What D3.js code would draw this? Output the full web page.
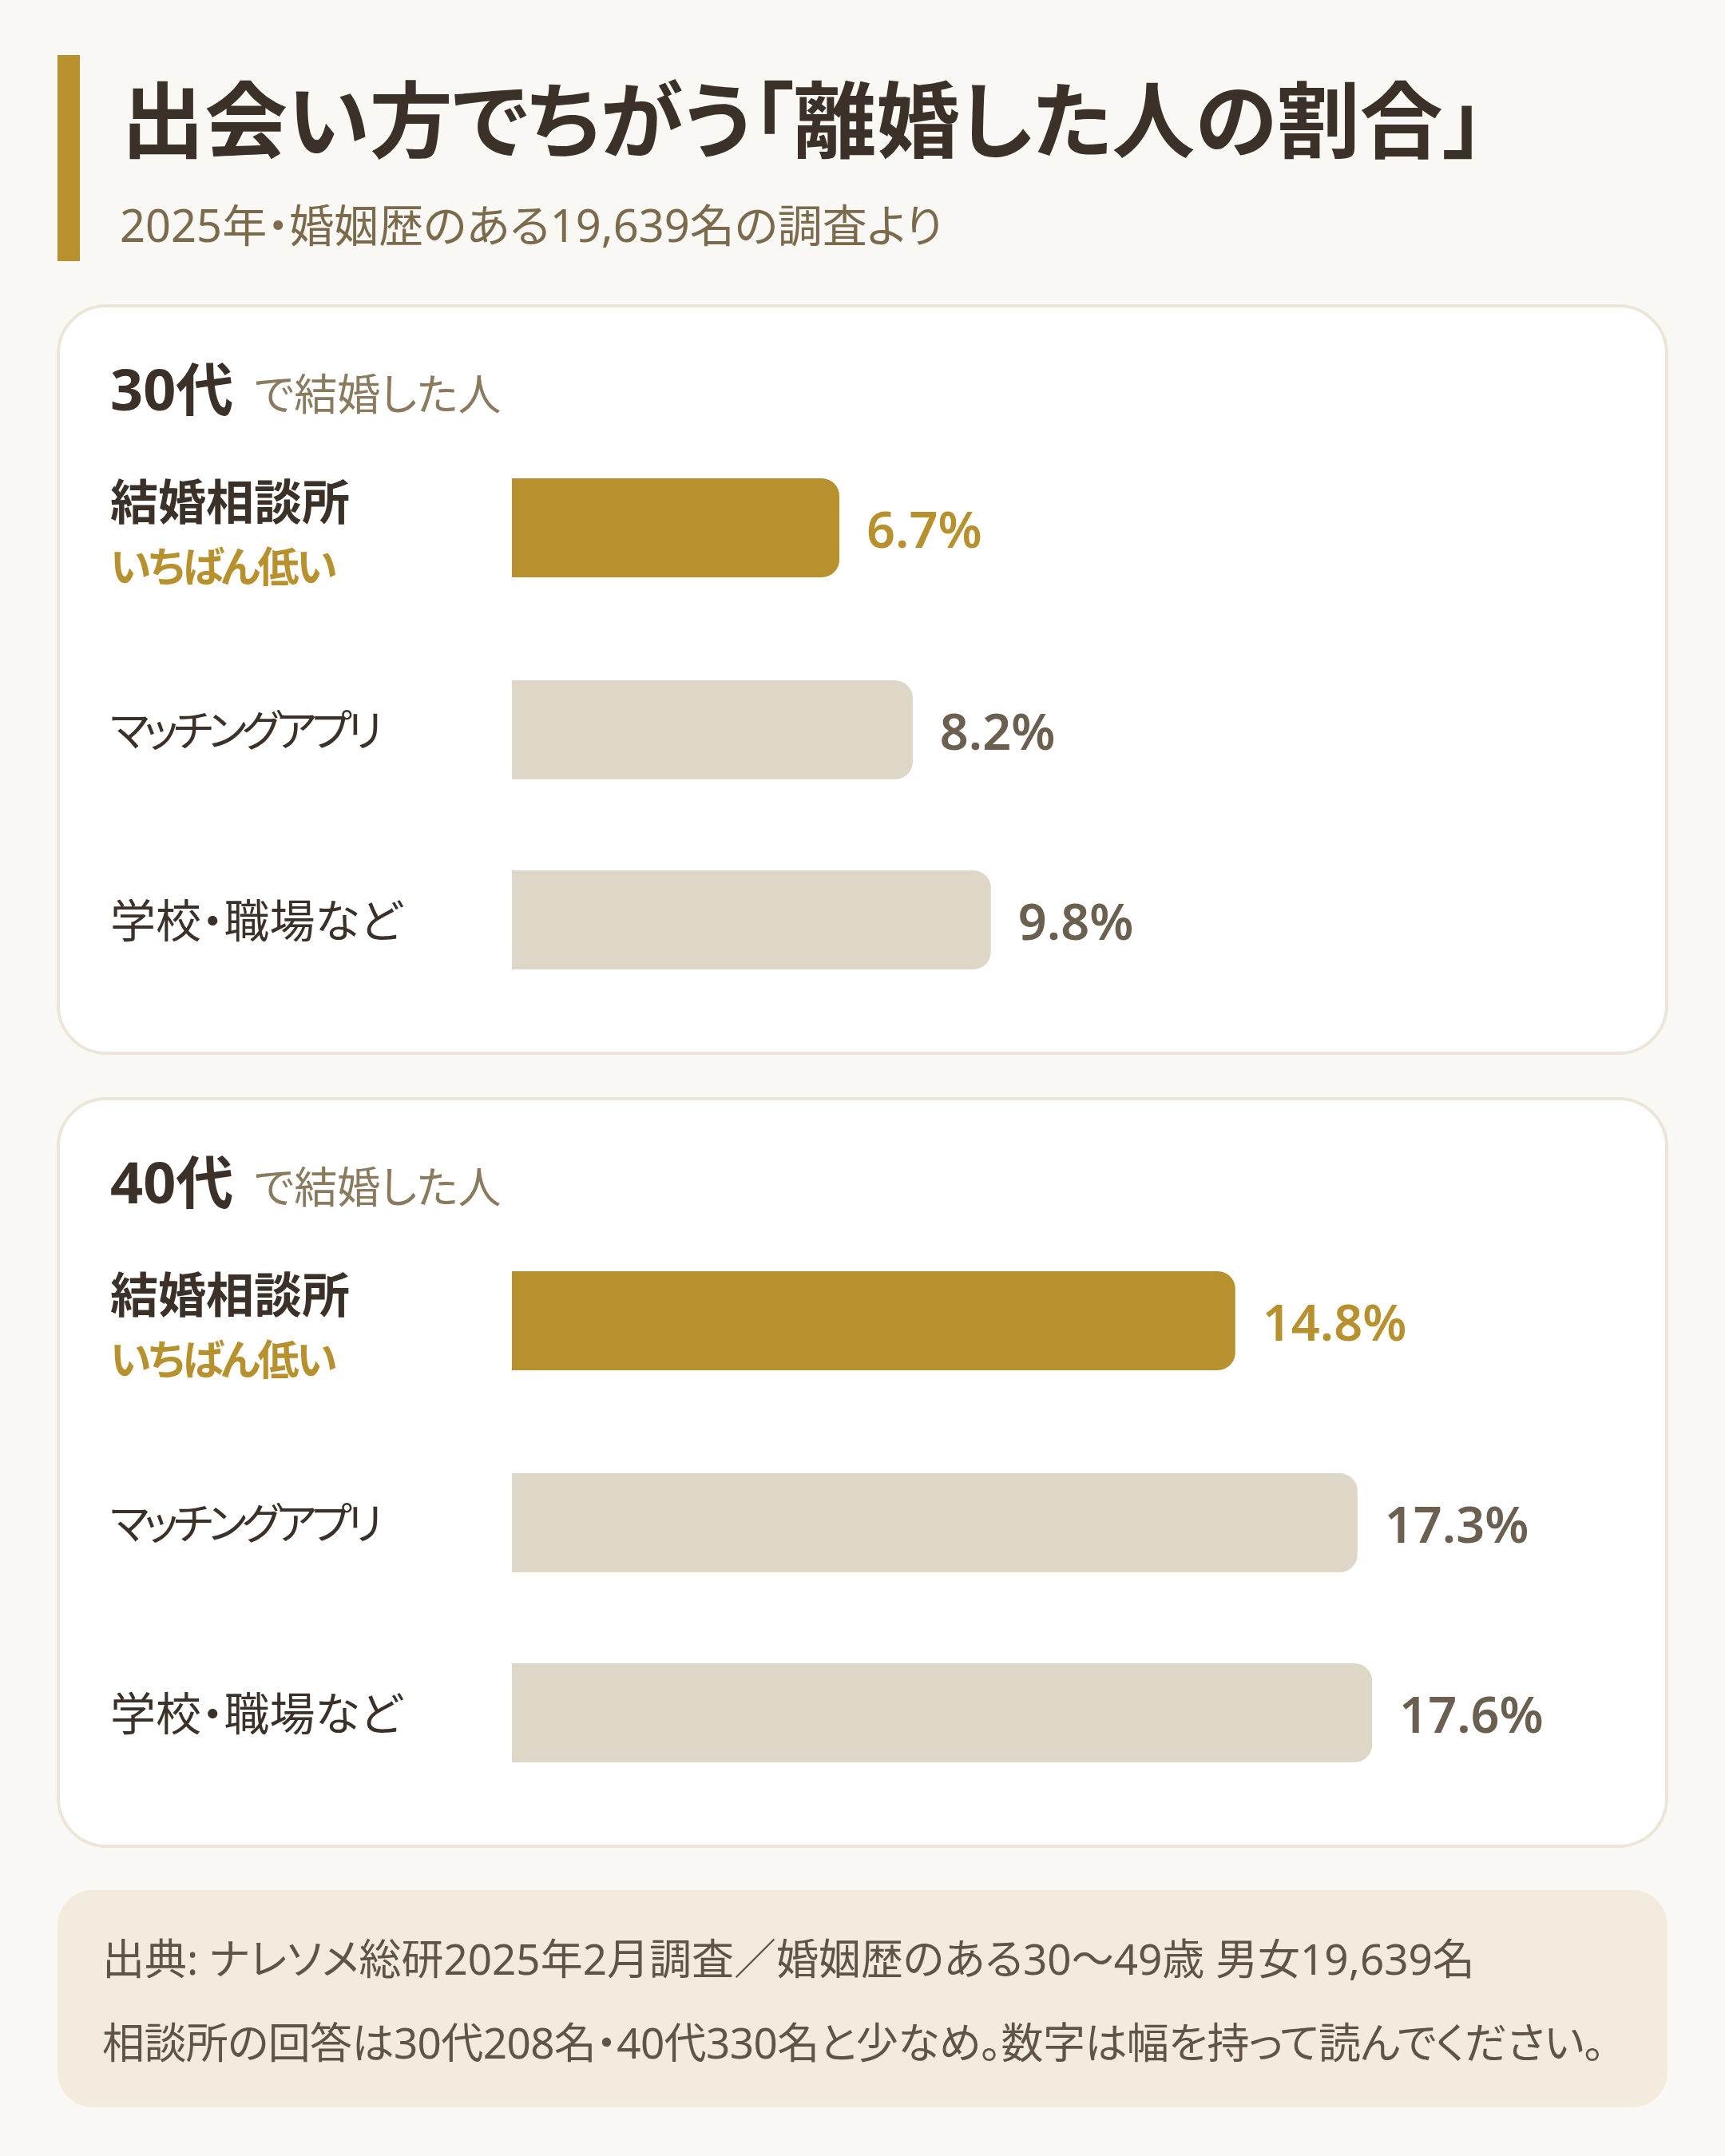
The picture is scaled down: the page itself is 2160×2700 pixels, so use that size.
<!DOCTYPE html>
<html lang="ja">
<head>
<meta charset="utf-8">
<script src="https://cdn.jsdelivr.net/npm/d3@7"></script>
<style>
  html, body { margin: 0; padding: 0; background: #f9f8f4; }
  svg text {
    font-family: "Noto Sans", "Noto Sans CJK JP", sans-serif;
    font-feature-settings: "palt" 1, "kern" 1;
    font-kerning: normal;
  }
</style>
</head>
<body>
<script>
var W = 2160, H = 2700;

// data
var groups = ["30代", "40代"];
var categories = ["結婚相談所", "マッチングアプリ", "学校・職場など"];
var values30 = [6.7, 8.2, 9.8];
var values40 = [14.8, 17.3, 17.6];
var highlight = "結婚相談所";
var highlightNote = "いちばん低い";
var titleText = "出会い方でちがう「離婚した人の割合」";
var subtitleText = "2025年・婚姻歴のある19,639名の調査より";
var groupSuffix = "で結婚した人";
var notes = [
  "出典: ナレソメ総研2025年2月調査／婚姻歴のある30〜49歳 男女19,639名",
  "相談所の回答は30代208名・40代330名と少なめ。数字は幅を持って読んでください。"
];

var gold = "#b8912f";
var dark = "#3b3128";
var barGray = "#ded6c6";
var valueGray = "#6b5f4f";

// kana in the original sit tighter than the local font sets them
var labelSize = { "マッチングアプリ": 54, "学校・職場など": 57 };
var labelSpacing = { "マッチングアプリ": -5.8, "学校・職場など": 0 };
var noteSpacing = [0, -0.6];

var svg = d3.select("body").append("svg").attr("width", W).attr("height", H);
svg.append("rect").attr("width", W).attr("height", H).attr("fill", "#f9f8f4");

// header
svg.append("rect").attr("x", 72).attr("y", 69).attr("width", 28).attr("height", 258).attr("fill", gold);
svg.append("text").attr("x", 152).attr("y", 190)
  .attr("font-size", 104).attr("font-weight", 700).attr("fill", dark)
  .text(titleText);
svg.append("text").attr("x", 150).attr("y", 303)
  .attr("font-size", 56).attr("fill", "#7b6a4b")
  .text(subtitleText);

// scales
var x = d3.scaleLinear().domain([0, 20]).range([641, 1865]);
var cardTop = d3.scaleOrdinal().domain(groups).range([382, 1375]);
var rowTop = d3.scaleOrdinal().domain(categories).range([217, 470, 708]);
var barH = 124, r = 22;

function barPath(x0, x1, y0, h) {
  var p = d3.path();
  p.moveTo(x0, y0);
  p.lineTo(x1 - r, y0);
  p.arcTo(x1, y0, x1, y0 + r, r);
  p.lineTo(x1, y0 + h - r);
  p.arcTo(x1, y0 + h, x1 - r, y0 + h, r);
  p.lineTo(x0, y0 + h);
  p.closePath();
  return p.toString();
}

var groupValues = [values30, values40];

groups.forEach(function(g, gi) {
  var top = cardTop(g);
  var card = svg.append("g").attr("transform", "translate(0," + top + ")");
  card.append("rect").attr("x", 73).attr("y", 1).attr("width", 2014).attr("height", 936)
    .attr("rx", 60).attr("fill", "#ffffff").attr("stroke", "#ede6d8").attr("stroke-width", 4);

  var head = card.append("text").attr("x", 138).attr("y", 132);
  head.append("tspan").attr("font-size", 72).attr("font-weight", 700).attr("fill", dark).text(g);
  head.append("tspan").attr("dx", 26).attr("font-size", 54).attr("fill", "#8a7b5f").text(groupSuffix);

  var rows = categories.map(function(c, i) { return { cat: c, value: groupValues[gi][i] }; });

  card.selectAll("path.bar").data(rows).enter().append("path")
    .attr("class", "bar")
    .attr("d", function(d) { return barPath(x(0), x(d.value), rowTop(d.cat), barH); })
    .attr("fill", function(d) { return d.cat === highlight ? gold : barGray; });

  card.selectAll("text.val").data(rows).enter().append("text")
    .attr("class", "val")
    .attr("x", function(d) { return x(d.value) + 34; })
    .attr("y", function(d) { return rowTop(d.cat) + barH / 2; })
    .attr("dominant-baseline", "central")
    .attr("font-size", 63).attr("font-weight", 600)
    .attr("fill", function(d) { return d.cat === highlight ? gold : valueGray; })
    .text(function(d) { return d.value.toFixed(1) + "%"; });

  rows.forEach(function(d) {
    var cy = rowTop(d.cat) + barH / 2;
    if (d.cat === highlight) {
      card.append("text").attr("x", 138).attr("y", cy - 33).attr("dominant-baseline", "central")
        .attr("font-size", 60).attr("font-weight", 700).attr("fill", dark).text(d.cat);
      card.append("text").attr("x", 138).attr("y", cy + 47).attr("dominant-baseline", "central")
        .attr("font-size", 52).attr("font-weight", 700).attr("fill", gold)
        .style("letter-spacing", "-3.2px").text(highlightNote);
    } else {
      card.append("text").attr("x", 138).attr("y", cy).attr("dominant-baseline", "central")
        .attr("font-size", labelSize[d.cat]).attr("fill", dark)
        .style("letter-spacing", labelSpacing[d.cat] + "px").text(d.cat);
    }
  });
});

// source box
svg.append("rect").attr("x", 72).attr("y", 2367).attr("width", 2016).attr("height", 272)
  .attr("rx", 44).attr("fill", "#f3ecde");
svg.selectAll("text.note").data(notes).enter().append("text")
  .attr("class", "note")
  .attr("x", 128)
  .attr("y", function(d, i) { return 2452 + i * 105; })
  .attr("dominant-baseline", "central")
  .attr("font-size", 53).attr("fill", "#5f5446")
  .style("letter-spacing", function(d, i) { return noteSpacing[i] + "px"; })
  .text(function(d) { return d; });
</script>
</body>
</html>
